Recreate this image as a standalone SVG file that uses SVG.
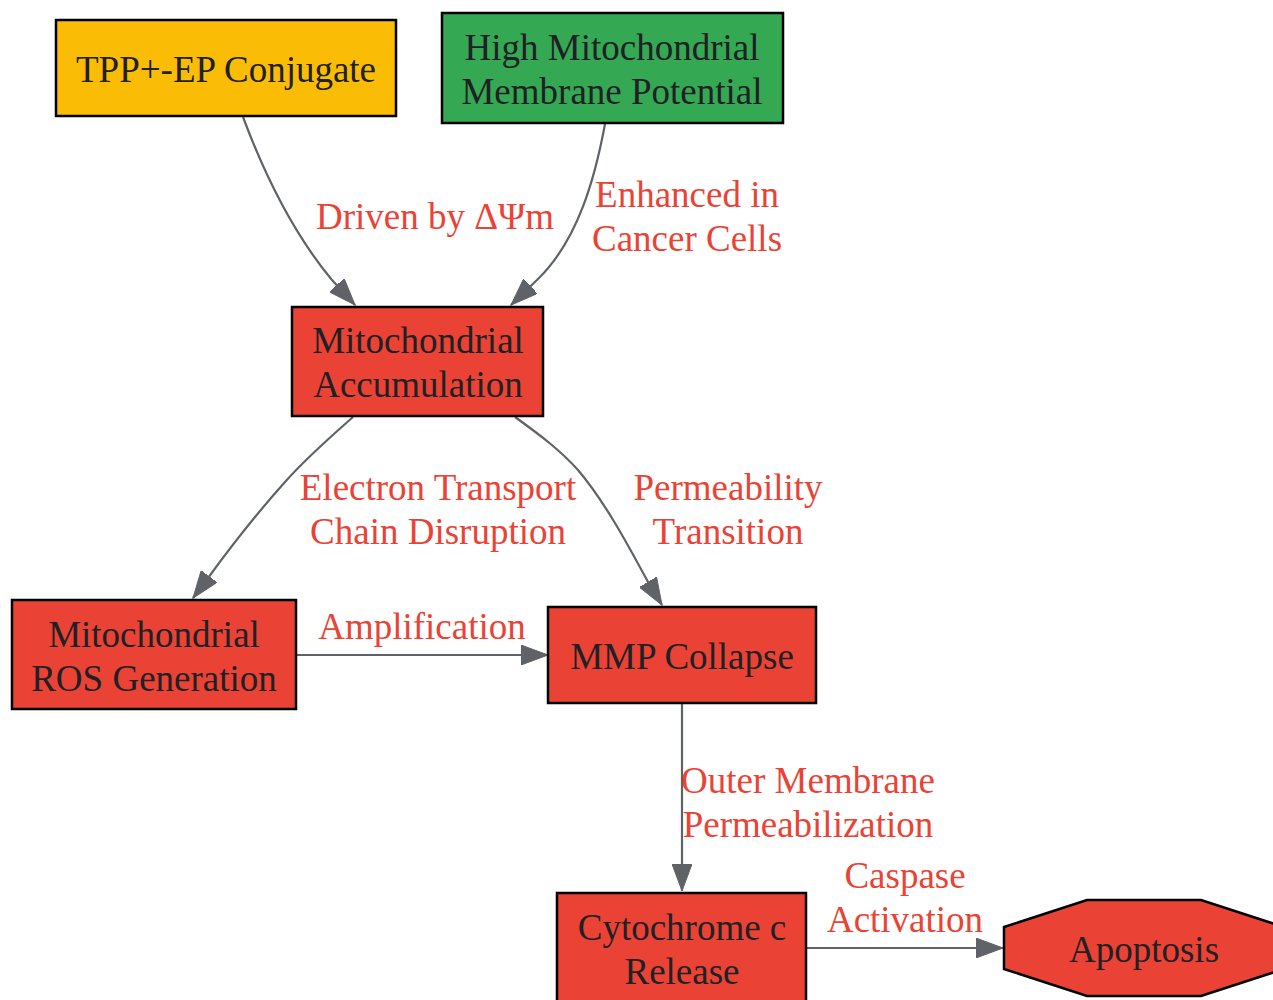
<svg xmlns="http://www.w3.org/2000/svg" width="1273" height="1000" viewBox="0 0 1273 1000">
<defs>
<marker id="arr" markerWidth="28" markerHeight="20" refX="27" refY="10" orient="auto" markerUnits="userSpaceOnUse">
<polygon points="0,0 27,10 0,20" fill="#5f6368" stroke="#5f6368" stroke-width="1"/>
</marker>
<style>
.node{stroke:#000;stroke-width:2.5}
.nt{font-family:"Liberation Serif","Times New Roman",serif;font-size:37px;fill:#202124;text-anchor:middle}
.el{font-family:"Liberation Serif","Times New Roman",serif;font-size:37px;fill:#EA4335;text-anchor:middle}
.edge{fill:none;stroke:#5f6368;stroke-width:2.2;marker-end:url(#arr)}
</style>
</defs>
<rect width="1273" height="1000" fill="#fff"/>
<g id="connectors">
<path class="edge" d="M243,117 C262,168 292,232 332,280 L355,305"/>
<path class="edge" d="M605,124 C595,178 578,240 538,279 L511,305"/>
<path class="edge" d="M353,417 C320,446 300,465 285,482 C258,512 230,548 208,578 L193,598"/>
<path class="edge" d="M515,417 C540,435 560,450 578,470 C605,502 628,545 648,582 L662,605"/>
<path class="edge" d="M296,655 L548,655"/>
<path class="edge" d="M682,703 L682,891"/>
<path class="edge" d="M806,948 L1003,948"/>
<text class="el" x="435" y="229">Driven by ΔΨm</text>
<text class="el" x="687" y="207">Enhanced in</text>
<text class="el" x="687" y="251">Cancer Cells</text>
<text class="el" x="438" y="500">Electron Transport</text>
<text class="el" x="438" y="544">Chain Disruption</text>
<text class="el" x="728" y="500">Permeability</text>
<text class="el" x="728" y="544">Transition</text>
<text class="el" x="422" y="639">Amplification</text>
<text class="el" x="808" y="793">Outer Membrane</text>
<text class="el" x="808" y="837">Permeabilization</text>
<text class="el" x="905" y="888">Caspase</text>
<text class="el" x="905" y="932">Activation</text>
</g>
<g id="tpp">
<rect class="node" x="56" y="20" width="340" height="96" fill="#FBBC05"/>
<text class="nt" x="226" y="82">TPP+-EP Conjugate</text>
</g>
<g id="high_mmp">
<rect class="node" x="442" y="13" width="341" height="110" fill="#34A853"/>
<text class="nt" x="612" y="60">High Mitochondrial</text>
<text class="nt" x="612" y="104">Membrane Potential</text>
</g>
<g id="mito_acc">
<rect class="node" x="292" y="307" width="251" height="109" fill="#EA4335"/>
<text class="nt" x="418" y="353">Mitochondrial</text>
<text class="nt" x="418" y="397">Accumulation</text>
</g>
<g id="ros">
<rect class="node" x="12" y="600" width="284" height="109" fill="#EA4335"/>
<text class="nt" x="154" y="647">Mitochondrial</text>
<text class="nt" x="154" y="691">ROS Generation</text>
</g>
<g id="mmp_collapse">
<rect class="node" x="548" y="607" width="268" height="96" fill="#EA4335"/>
<text class="nt" x="682" y="669">MMP Collapse</text>
</g>
<g id="cyto">
<rect class="node" x="557" y="893" width="249" height="112" fill="#EA4335"/>
<text class="nt" x="682" y="940">Cytochrome c</text>
<text class="nt" x="682" y="984">Release</text>
</g>
<g id="apoptosis">
<polygon class="node" points="1087,900 1201,900 1284,927 1284,969 1201,996 1087,996 1004,969 1004,927" fill="#EA4335"/>
<text class="nt" x="1144" y="962">Apoptosis</text>
</g>
</svg>
